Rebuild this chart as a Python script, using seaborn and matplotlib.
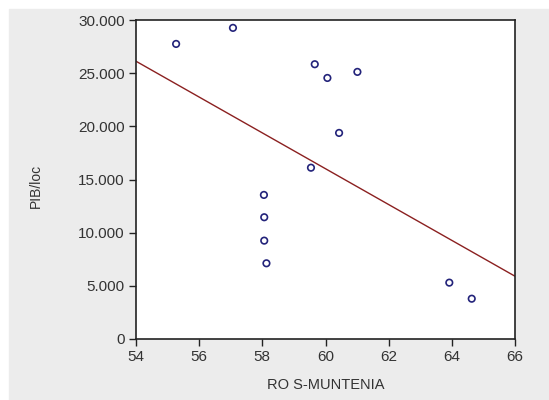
import matplotlib
matplotlib.use("Agg")
import matplotlib.pyplot as plt
import matplotlib.ticker as mticker
import seaborn as sns
import pandas as pd

# valori
ro_s_muntenia = [55.27, 57.07, 59.66, 60.06, 61.01, 60.43, 59.54,
                 58.05, 58.06, 58.06, 58.13, 63.92, 64.63]
pib_loc = [27750, 29260, 25840, 24550, 25120, 19380, 16110,
           13550, 11450, 9250, 7120, 5300, 3790]
x_ticks = [54, 56, 58, 60, 62, 64, 66]
y_ticks = [0, 5000, 10000, 15000, 20000, 25000, 30000]

df = pd.DataFrame({"RO S-MUNTENIA": ro_s_muntenia, "PIB/loc": pib_loc})

sns.set_style("white")
plt.rcParams["font.family"] = ["Liberation Sans", "DejaVu Sans"]

fig = plt.figure(figsize=(5.49, 4.0), dpi=100, facecolor="white")
# fundal gri al ferestrei
fig.patches.append(plt.Rectangle((9 / 549, 0), 1 - 9 / 549, 1 - 9 / 400,
                                 transform=fig.transFigure, color="#ececec",
                                 zorder=-10))
ax = fig.add_axes([136 / 549, 1 - 339 / 400, 379 / 549, 319 / 400])
ax.set_facecolor("white")

ax.set_xlim(54, 66)
ax.set_ylim(0, 30000)

sns.scatterplot(data=df, x="RO S-MUNTENIA", y="PIB/loc", ax=ax,
                marker="o", s=22, facecolors="none", edgecolor="#23237a",
                linewidth=1.2, zorder=3)
sns.regplot(data=df, x="RO S-MUNTENIA", y="PIB/loc", ax=ax, scatter=False,
            ci=None, truncate=False, line_kws={"color": "#8b2020", "lw": 1.0})

ax.set_xlim(54, 66)
ax.set_ylim(0, 30000)
ax.set_xticks(x_ticks)
ax.set_yticks(y_ticks)
ax.yaxis.set_major_formatter(mticker.FuncFormatter(
    lambda v, p: f"{int(v):,}".replace(",", ".")))

for s in ax.spines.values():
    s.set_color("#222222")
    s.set_linewidth(1.2)

ax.tick_params(axis="both", direction="out", length=5, width=1,
               bottom=True, left=True, pad=3,
               color="#222222", labelsize=11, labelcolor="#333333")
ax.set_xlabel("RO S-MUNTENIA", fontsize=10.5, color="#333333", labelpad=10)
ax.set_ylabel("PIB/loc", fontsize=10, color="#333333")
ax.yaxis.set_label_coords(-0.245, 0.48)

fig.savefig("out.png", dpi=100, facecolor=fig.get_facecolor())
